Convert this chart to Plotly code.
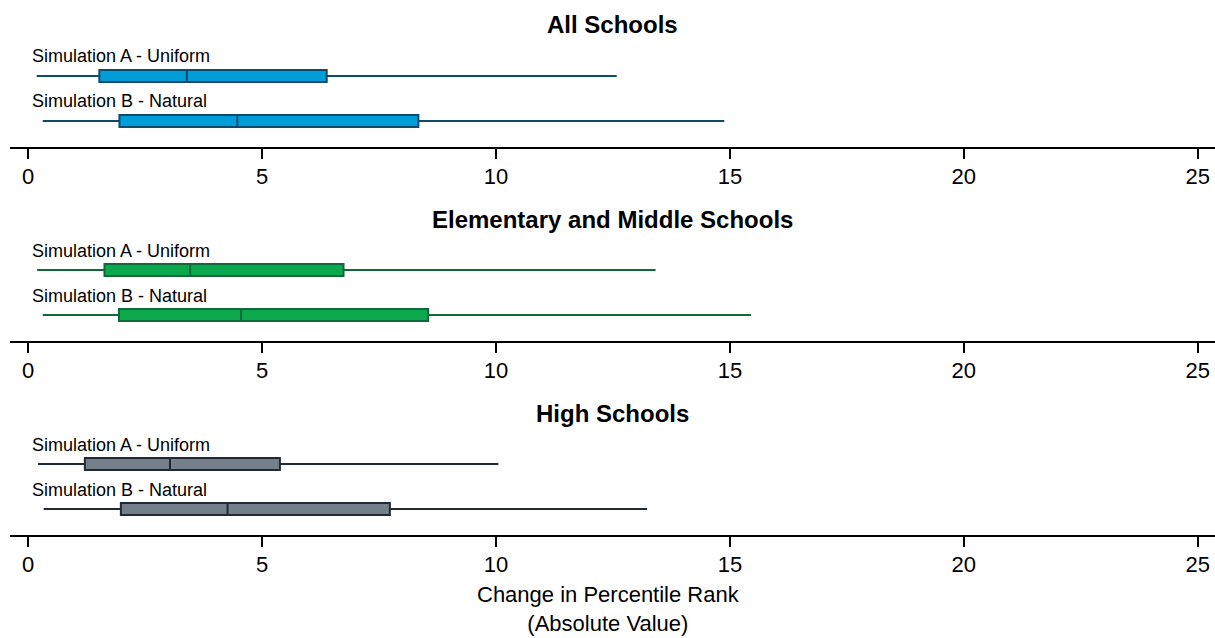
import plotly.graph_objects as go

# Box-plot summary statistics: change in percentile rank (absolute value)
panels = ["All Schools", "Elementary and Middle Schools", "High Schools"]
simulations = ["Simulation A - Uniform", "Simulation B - Natural"]

lower_whisker = [[0.18, 0.31], [0.19, 0.31], [0.21, 0.33]]
quartile_1 = [[1.52, 1.95], [1.63, 1.94], [1.21, 1.98]]
medians = [[3.39, 4.47], [3.46, 4.55], [3.03, 4.26]]
quartile_3 = [[6.38, 8.34], [6.74, 8.55], [5.38, 7.73]]
upper_whisker = [[12.58, 14.88], [13.41, 15.45], [10.05, 13.23]]

x_ticks = [0, 5, 10, 15, 20, 25]
x_title_lines = ["Change in Percentile Rank", "(Absolute Value)"]

fills = ["#009ED9", "#0BA84E", "#73808A"]
outlines = ["#0E4A6C", "#10693A", "#1F2A36"]

W, H = 1215, 638
FONT = "Arial, Liberation Sans, sans-serif"

fig = go.Figure()

row_pos = [1, 0]          # Simulation A above Simulation B
unit_px = 45.0            # vertical pixels per row step
panel_px = 130.0          # height of each panel's plotting band
axis_px = [147, 341, 535] # pixel row of each panel's x axis line
y_lo = -26.0 / unit_px
y_hi = y_lo + panel_px / unit_px

layout = dict(
    width=W, height=H,
    margin=dict(l=10, r=0, t=0, b=0),
    plot_bgcolor="white", paper_bgcolor="white",
    showlegend=False,
    font=dict(family=FONT, color="black"),
)

annotations = []
for k, panel in enumerate(panels):
    xa = "x" if k == 0 else f"x{k + 1}"
    ya = "y" if k == 0 else f"y{k + 1}"
    for j, sim in enumerate(simulations):
        fig.add_trace(go.Box(
            y=[row_pos[j]],
            q1=[quartile_1[k][j]],
            median=[medians[k][j]],
            q3=[quartile_3[k][j]],
            lowerfence=[lower_whisker[k][j]],
            upperfence=[upper_whisker[k][j]],
            orientation="h",
            width=12.0 / unit_px,
            whiskerwidth=0,
            boxpoints=False,
            fillcolor=fills[k],
            line=dict(color=outlines[k], width=2),
            xaxis=xa, yaxis=ya,
            name=sim,
        ))
        annotations.append(dict(
            xref=xa, yref=ya, x=0.04, y=row_pos[j] + 19.5 / unit_px,
            xanchor="left", yanchor="middle", showarrow=False,
            text=sim, font=dict(family=FONT, size=18, color="black"),
        ))

    bottom = 1 - axis_px[k] / H
    top = 1 - (axis_px[k] - panel_px) / H
    xkey = "xaxis" if k == 0 else f"xaxis{k + 1}"
    ykey = "yaxis" if k == 0 else f"yaxis{k + 1}"
    layout[xkey] = dict(
        domain=[0, 1], anchor=ya, range=[-0.39, 25.37],
        tickvals=x_ticks, ticktext=[str(t) for t in x_ticks],
        showline=True, linecolor="black", linewidth=2,
        ticks="outside", ticklen=10, tickwidth=2, tickcolor="black",
        ticklabelstandoff=-1,
        tickfont=dict(family=FONT, size=22, color="black"),
        showgrid=False, zeroline=False, automargin=False,
    )
    layout[ykey] = dict(
        domain=[bottom, top], anchor=xa, range=[y_lo, y_hi],
        visible=False, showgrid=False, zeroline=False,
    )
    annotations.append(dict(
        xref="paper", yref=f"{ya} domain", x=0.5, y=122.0 / panel_px,
        xanchor="center", yanchor="middle", showarrow=False,
        text=f"<b>{panel}</b>", font=dict(family=FONT, size=24, color="black"),
    ))

# Two-line x-axis title under the bottom panel
annotations.append(dict(
    xref="paper", yref="paper", x=(608 - 10) / 1205, y=0,
    xanchor="center", yanchor="bottom", showarrow=False,
    text="<br>".join(x_title_lines),
    font=dict(family=FONT, size=22, color="black"),
))

layout["annotations"] = annotations
fig.update_layout(**layout)
fig.write_html("out.html")
